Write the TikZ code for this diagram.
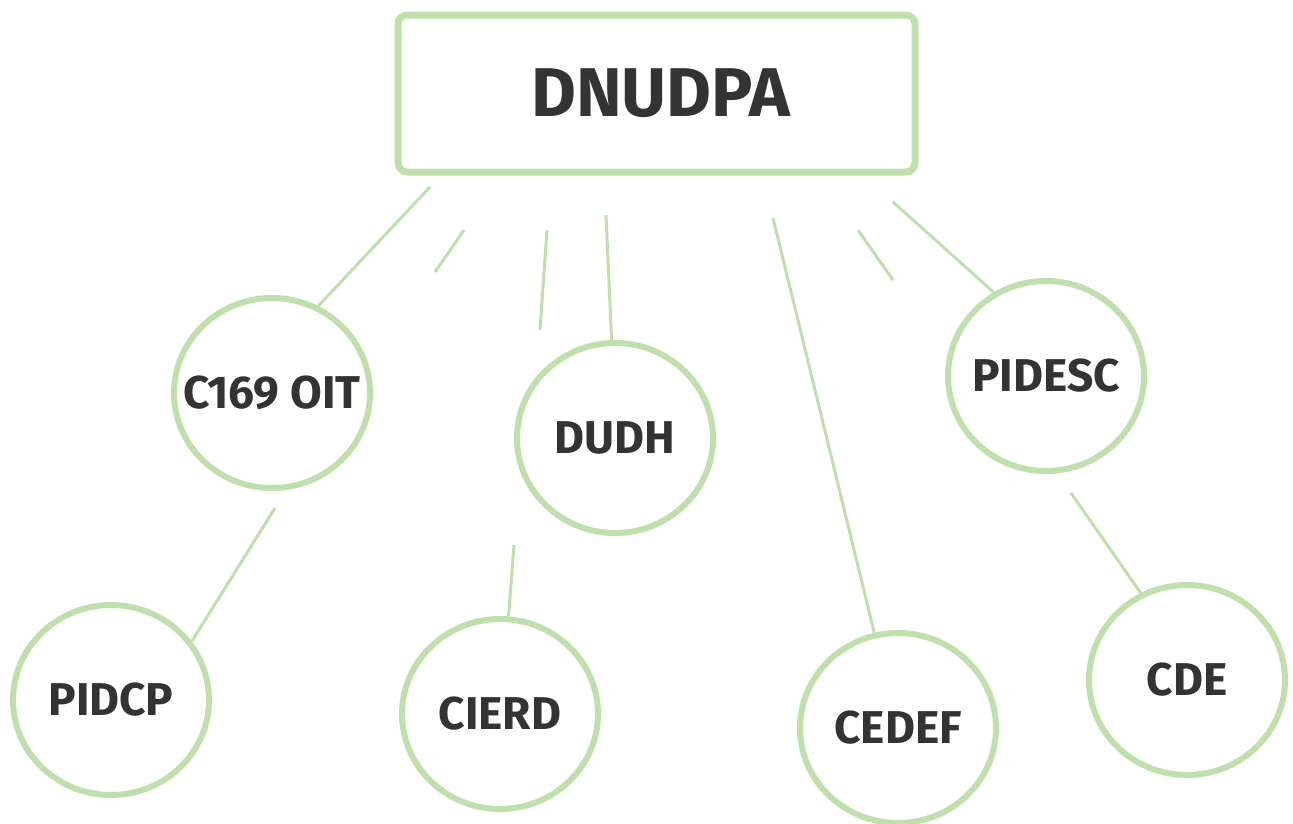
\documentclass[tikz,border=0pt]{standalone}
\usepackage{fontspec}
\setmainfont{Fira Sans}
\usetikzlibrary{shapes.geometric}
\definecolor{leaf}{HTML}{BFE0AC}
\definecolor{ink}{HTML}{333333}
% zero-width box so the label never widens its bubble
\newcommand{\bubtext}[1]{\makebox[0pt]{#1}}
\tikzset{
  topbox/.style={draw=leaf, line width=7pt, rounded corners=9pt, fill=white,
    minimum width=517pt, minimum height=157pt, inner sep=0pt,
    text=ink, font=\fontsize{69pt}{71pt}\selectfont\bfseries},
  bubble/.style={ellipse, draw=leaf, line width=6pt, fill=white,
    minimum width=196pt, minimum height=190pt, inner sep=0pt,
    text=ink, font=\fontsize{46pt}{48pt}\selectfont\bfseries},
  link/.style={draw=leaf, line width=3pt},
}
\begin{document}
\begin{tikzpicture}[x=1pt, y=-1pt]
  \useasboundingbox (0,0) rectangle (1293,823);

  % root
  \node[topbox] (root) at (656.5,93.5) {\hspace*{8pt}DNUDPA};

  % bubbles
  \node[bubble] (oit)    at (272,393) {\bubtext{C169 OIT}};
  \node[bubble] (dudh)   at (615,438) {\bubtext{DUDH}};
  \node[bubble] (pidesc) at (1046,376) {\bubtext{PIDESC}};
  \node[bubble] (pidcp)  at (111,700) {\bubtext{PIDCP}};
  \node[bubble] (cierd)  at (500,714) {\bubtext{CIERD}};
  \node[bubble] (cedef)  at (898,728) {\bubtext{CEDEF}};
  \node[bubble] (cde)    at (1187,680) {\bubtext{CDE}};

  % free ends of the links
  \coordinate (r1) at (430,187);
  \coordinate (r2) at (606,215);
  \coordinate (r3) at (773,218);
  \coordinate (r4) at (893,202);
  \coordinate (s1a) at (464,230);
  \coordinate (s1b) at (435,272);
  \coordinate (s2a) at (547,230);
  \coordinate (s2b) at (540,330);
  \coordinate (s3a) at (858,230);
  \coordinate (s3b) at (893,280);
  \coordinate (o1) at (275,508);
  \coordinate (d1) at (514,545);
  \coordinate (p1) at (1071,493);

  % links from the root
  \draw[link] (r1) -- (oit.62.7);
  \draw[link] (r2) -- (dudh.92);
  \draw[link] (r3) -- (cedef.104);
  \draw[link] (r4) -- (pidesc.122.6);
  \draw[link] (s1a) -- (s1b);
  \draw[link] (s2a) -- (s2b);
  \draw[link] (s3a) -- (s3b);

  % second-level links
  \draw[link] (o1) -- (pidcp.36.5);
  \draw[link] (d1) -- (cierd.85);
  \draw[link] (p1) -- (cde.118.6);
\end{tikzpicture}
\end{document}
